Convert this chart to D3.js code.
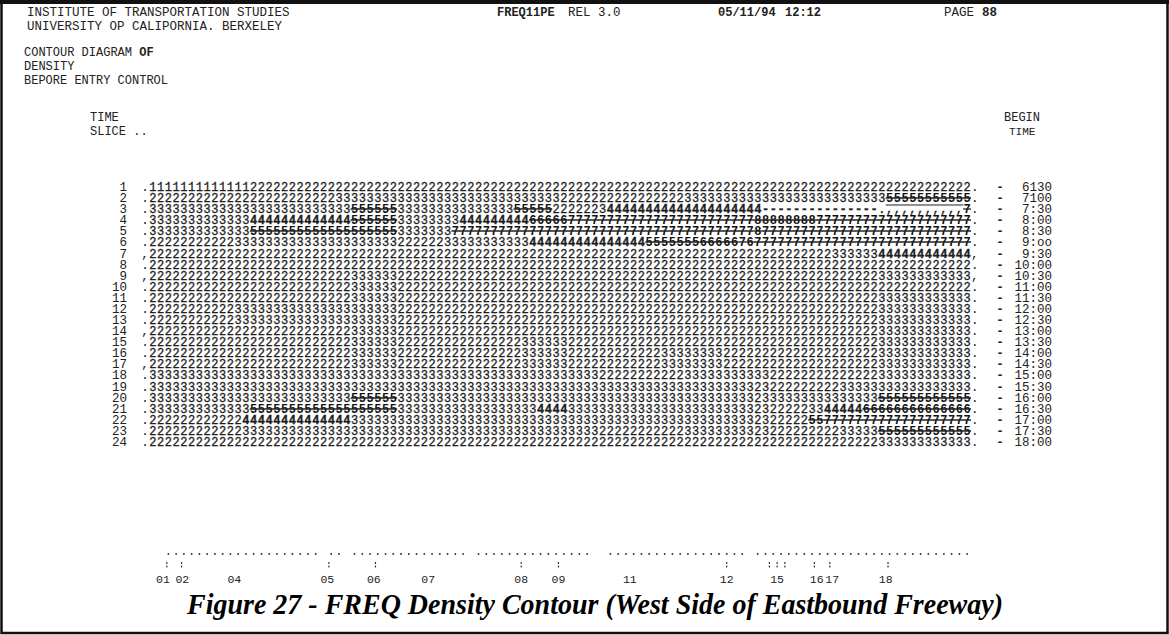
<!DOCTYPE html>
<html><head><meta charset="utf-8">
<script src="https://cdn.jsdelivr.net/npm/d3@7"></script>
<style>
html,body{margin:0;padding:0;background:#fff;}
svg{display:block;}
</style></head>
<body>
<svg id="chart" width="1169" height="635"></svg>
<script>
// ---- DATA ----
const rowNumbers = d3.range(1, 25);
const beginTimes = ["6130","7100","7:30","8:00","8:30","9:oo","9:30","10:00","10:30","11:00","11:30","12:00",
  "12:30","13:00","13:30","14:00","14:30","15:00","15:30","16:00","16:30","17:00","17:30","18:00"];
const leadChars = [".",".",".",".",".",".",",",".",",",".",".",".",".",",",".",".",",",".",".",".",".",".",".","."];
const tailChars = [".",".",".",".",".",".",",",".",",",".",".",".",".",".",".",".",".",".",".",".",".",".",".","."];
// density class runs per time slice: "class:count"
const row01 = "1:13 2:93";
const row02 = "2:24 3:29 2:16 3:26 5:11";
const row03 = "3:26 5:6 3:15 5:5 2:6 3:1 4:20 _:15 .:1 ,:10 7:1";
const row04 = "3:13 4:13 5:6 3:8 4:9 6:5 7:24 8:8 7:20";
const row05 = "3:13 5:19 3:7 7:39 8:1 7:27";
const row06 = "2:11 3:21 2:6 3:11 4:15 5:7 6:5 7:1 6:1 7:28";
const row07 = "2:88 3:6 4:12";
const row08 = "2:106";
const row09 = "2:26 3:6 2:62 3:12";
const row10 = "2:26 3:6 2:74";
const row11 = "2:26 3:6 2:62 3:12";
const row12 = "2:11 3:21 2:62 3:12";
const row13 = "2:11 3:21 2:62 3:12";
const row14 = "2:26 3:6 2:62 3:12";
const row15 = "2:26 3:6 2:16 3:6 2:40 3:12";
const row16 = "2:26 3:6 2:16 3:6 2:12 3:8 2:20 3:12";
const row17 = "2:26 3:6 2:16 3:6 2:12 3:8 2:20 3:12";
const row18 = "3:58 2:11 3:11 2:14 3:12";
const row19 = "3:78 2:1 3:1 2:9 3:17";
const row20 = "3:26 5:6 3:46 2:1 3:15 5:12";
const row21 = "3:13 5:19 3:18 4:4 3:24 2:1 3:1 2:5 3:2 4:5 6:14";
const row22 = "2:12 4:14 3:52 2:1 3:1 2:5 5:2 7:19";
const row23 = "2:12 3:46 2:11 3:9 2:1 3:1 2:9 3:5 5:12";
const row24 = "2:94 3:12";
const rowRuns = [row01,row02,row03,row04,row05,row06,row07,row08,row09,row10,row11,row12,
  row13,row14,row15,row16,row17,row18,row19,row20,row21,row22,row23,row24];
const nCols = 106;
// station axis
const stationLabels = ["01","02","04","05","06","07","08","09","11","12","15","16","17","18"];
const stationCols   = [1.3, 3.8, 10.5, 22.5, 28.5, 35.5, 47.5, 52.3, 61.5, 74, 80.5, 85.6, 87.6, 94.5];
const tickCols = [1.8, 3.7, 22.7, 28.7, 47.5, 52.3, 74, 79.5, 80.5, 81.5, 85.3, 87.3, 94.8];
const dotRuns = [[2,22],[23,25],[26,41],[42,57],[59,77],[78,106]];

// ---- DRAW ----
const svg = d3.select("#chart");
const W = 1169, H = 635;
const mono = "'Liberation Mono', 'DejaVu Sans Mono', monospace";

// border
svg.append("rect").attr("x",1.5).attr("y",2).attr("width",W-3).attr("height",H-4)
  .attr("fill","none").attr("stroke","#111").attr("stroke-width",2.5);
svg.append("line").attr("x1",0).attr("x2",W).attr("y1",2).attr("y2",2).attr("stroke","#111").attr("stroke-width",4);

const x = d3.scaleLinear().domain([0, nCols]).range([149, 971]);
const y = d3.scaleLinear().domain([1, 24]).range([187, 442]);
const yb = r => Math.round(y(r)) + 4;

// header
const hdr = svg.append("g").attr("font-family", mono).attr("fill","#222");
const headerItems = [
  {t:"INSTITUTE OF TRANSPORTATION STUDIES", x:27, y:16, w:"normal", s:12.5},
  {t:"UNIVERSITY OP CALIPORNIA. BERXELEY", x:27, y:30, w:"normal", s:12.5},
  {t:"FREQ11PE", x:497, y:16, w:"bold", s:12},
  {t:"REL 3.0", x:568, y:16, w:"normal", s:12.5},
  {t:"05/11/94", x:718, y:16, w:"bold", s:12},
  {t:"12:12", x:785, y:16, w:"bold", s:12},
  {t:"PAGE", x:944, y:16, w:"normal", s:12.5},
  {t:"88", x:982, y:16, w:"bold", s:12.5},
  {t:"DENSITY", x:24, y:70, w:"normal", s:12},
  {t:"BEPORE ENTRY CONTROL", x:24, y:84, w:"normal", s:12},
  {t:"TIME", x:90, y:121, w:"normal", s:12},
  {t:"SLICE ..", x:90, y:135, w:"normal", s:12},
  {t:"BEGIN", x:1004, y:121, w:"normal", s:12},
  {t:"TIME", x:1009, y:135, w:"normal", s:11}
];
hdr.selectAll("text.h").data(headerItems).join("text").attr("class","h")
  .attr("x",d=>d.x).attr("y",d=>d.y).attr("font-weight",d=>d.w).attr("font-size",d=>d.s)
  .text(d=>d.t);
const cd = hdr.append("text").attr("x",24).attr("y",56).attr("font-size",12);
cd.append("tspan").text("CONTOUR DIAGRAM ");
cd.append("tspan").attr("font-weight","bold").text("OF");

// parse runs
function parseRuns(runStr){
  let c = 0;
  return runStr.split(" ").map(tok=>{
    const [ch, n] = tok.split(":");
    const run = {ch, start:c, n:+n};
    c += +n;
    return run;
  });
}
const rows = rowRuns.map((r,i)=>({row:i+1, runs:parseRuns(r)}));
const heavy = c => "5678".includes(c);

const grid = svg.append("g").attr("font-family", mono).attr("font-size",12).attr("text-anchor","middle");
const rowText = grid.selectAll("text.row").data(rows).join("text").attr("class","row")
  .attr("y",d=>yb(d.row));
rowText.selectAll("tspan").data(d=>d.runs).join("tspan")
  .attr("x",r=>d3.range(r.start, r.start+r.n).map(c=>x(c+0.5).toFixed(2)).join(" "))
  .attr("font-weight",r=>heavy(r.ch)||r.ch==="4"||r.ch==="_"?"bold":"normal")
  .attr("fill",r=>heavy(r.ch)?"#111":"#1e1e1e")
  .attr("stroke",r=>heavy(r.ch)?"none":"#1e1e1e").attr("stroke-width",0.3)
  .text(r=>(r.ch==="_"?"-":r.ch).repeat(r.n));

// overstrike lines on heavy classes, overline on faded run
const runLines = [];
rows.forEach(rw=>rw.runs.forEach(r=>{
  if(heavy(r.ch)) runLines.push({row:rw.row, a:r.start, b:r.start+r.n, dy:0, w:1.3});
  if(r.ch===",") runLines.push({row:rw.row, a:r.start, b:r.start+r.n, dy:-4, w:1.2});
}));
grid.selectAll("line.strike").data(runLines).join("line").attr("class","strike")
  .attr("x1",d=>x(d.a)).attr("x2",d=>x(d.b))
  .attr("y1",d=>Math.round(y(d.row))+d.dy).attr("y2",d=>Math.round(y(d.row))+d.dy)
  .attr("stroke","#222").attr("stroke-width",d=>d.w);

// row labels, lead/tail chars, begin times
const lab = svg.append("g").attr("font-family", mono).attr("font-size",12.5).attr("fill","#222");
const lineText = lab.selectAll("text.rn").data(rowNumbers).join("text").attr("class","rn")
  .attr("y",d=>yb(d));
lineText.append("tspan").attr("x",127).attr("text-anchor","end").text(d=>d);
lineText.append("tspan").attr("x",x(-0.5)).attr("text-anchor","middle").text((d,i)=>leadChars[i]);
const rightText = lab.selectAll("text.bt").data(rowNumbers).join("text").attr("class","bt")
  .attr("y",d=>yb(d));
rightText.append("tspan").attr("x",x(nCols+0.5)).attr("text-anchor","middle").text((d,i)=>tailChars[i]);
rightText.append("tspan").attr("x",1000).attr("text-anchor","middle").attr("font-weight","bold").text("-");
rightText.append("tspan").attr("x",1052).attr("text-anchor","end").text((d,i)=>beginTimes[i]);

// station axis
const ax = svg.append("g").attr("font-family", mono).attr("fill","#222");
const dots = [];
dotRuns.forEach(([a,b])=>{ for(let c=a;c<b;c++) dots.push(c); });
ax.selectAll("circle.dot").data(dots).join("circle").attr("class","dot")
  .attr("cx",d=>x(d+0.5)).attr("cy",554).attr("r",0.95).attr("fill","#333");
ax.selectAll("line.tick").data(tickCols).join("line").attr("class","tick")
  .attr("x1",d=>x(d+0.5)).attr("x2",d=>x(d+0.5)).attr("y1",562).attr("y2",568)
  .attr("stroke","#333").attr("stroke-width",1.2).attr("stroke-dasharray","2,1.5");
ax.selectAll("text.st").data(stationLabels).join("text").attr("class","st")
  .attr("x",(d,i)=>x(stationCols[i]+0.5)).attr("y",583).attr("text-anchor","middle")
  .attr("font-size",11.5).text(d=>d);

// caption
svg.append("text").attr("x",595).attr("y",614).attr("text-anchor","middle")
  .attr("font-family","'Liberation Serif', 'Times New Roman', serif").attr("font-style","italic")
  .attr("font-weight","bold").attr("font-size",30).attr("fill","#000")
  .attr("textLength",816).attr("lengthAdjust","spacingAndGlyphs")
  .text("Figure 27 - FREQ Density Contour (West Side of Eastbound Freeway)");
</script>
</body></html>
